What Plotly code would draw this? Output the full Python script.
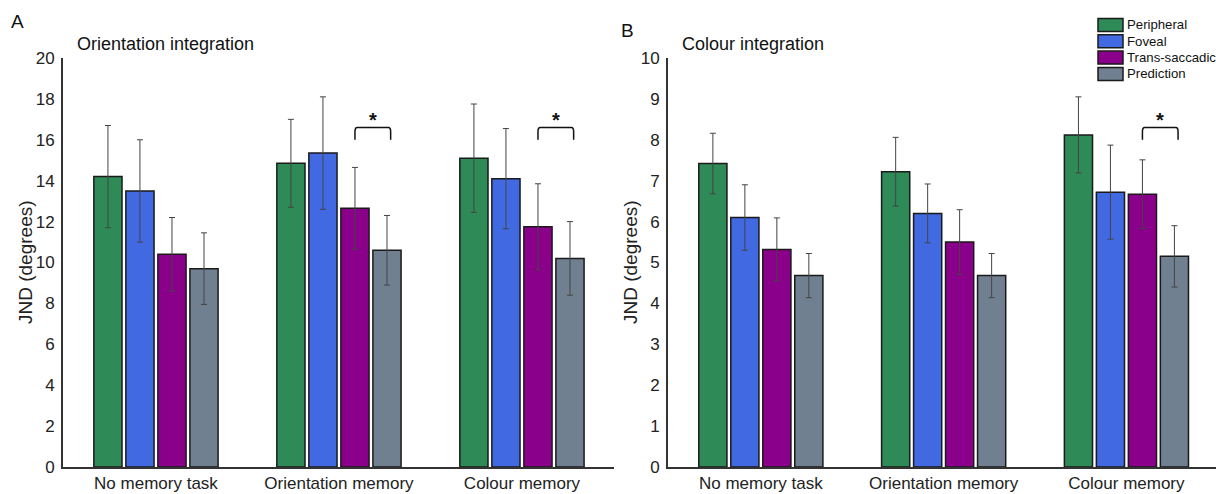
import plotly.graph_objects as go

categories = ["No memory task", "Orientation memory", "Colour memory"]
series = ["Peripheral", "Foveal", "Trans-saccadic", "Prediction"]
colors = ["#2E8B57", "#4169E1", "#8B008B", "#708090"]

# Panel A: orientation integration (JND in degrees)
orient_vals = {
    "Peripheral":     [14.2, 14.85, 15.1],
    "Foveal":         [13.5, 15.35, 14.1],
    "Trans-saccadic": [10.4, 12.65, 11.75],
    "Prediction":     [9.7, 10.6, 10.2],
}
orient_err = {
    "Peripheral":     [2.5, 2.15, 2.65],
    "Foveal":         [2.5, 2.75, 2.45],
    "Trans-saccadic": [1.8, 2.0, 2.1],
    "Prediction":     [1.75, 1.7, 1.8],
}
# Panel B: colour integration
colour_vals = {
    "Peripheral":     [7.42, 7.22, 8.12],
    "Foveal":         [6.1, 6.2, 6.72],
    "Trans-saccadic": [5.32, 5.5, 6.67],
    "Prediction":     [4.68, 4.68, 5.15],
}
colour_err = {
    "Peripheral":     [0.74, 0.84, 0.93],
    "Foveal":         [0.8, 0.72, 1.15],
    "Trans-saccadic": [0.77, 0.79, 0.84],
    "Prediction":     [0.54, 0.54, 0.75],
}
# significance brackets: (category index, y_low, y_high)
sig_A = [(1, 16.0, 16.6), (2, 16.0, 16.6)]
sig_B = [(2, 8.0, 8.3)]

x_idx = list(range(len(categories)))
BARGAP = 0.30
GROUPGAP = 0.12
FONT = "Liberation Sans, Arial, sans-serif"
W, H = 1216, 494

fig = go.Figure()
for panel, vals, errs in [("", orient_vals, orient_err), ("2", colour_vals, colour_err)]:
    for s, c in zip(series, colors):
        fig.add_trace(go.Bar(
            x=x_idx, y=vals[s], name=s,
            marker=dict(color=c, line=dict(color="#1a1a1a", width=1.5)),
            error_y=dict(type="data", array=errs[s], color="#444444", thickness=1, width=3),
            xaxis="x" + panel, yaxis="y" + panel, showlegend=False,
        ))

slot = (1 - BARGAP) / len(series)
def slot_center(k):
    return (k - (len(series) - 1) / 2) * slot

shapes = []
annotations = []
def bracket(xref, yref, ci, ylo, yhi):
    x0 = ci + slot_center(2)
    x1 = ci + slot_center(3) + 0.02
    r = 0.012
    ry = (yhi - ylo) * 0.35
    path = (f"M{x0},{ylo} L{x0},{yhi - ry} Q{x0},{yhi} {x0 + r},{yhi} "
            f"L{x1 - r},{yhi} Q{x1},{yhi} {x1},{yhi - ry} L{x1},{ylo}")
    shapes.append(dict(type="path", path=path, xref=xref, yref=yref,
                       line=dict(color="#111", width=1.5)))
    annotations.append(dict(x=(x0 + x1) / 2, y=yhi, xref=xref, yref=yref, text="<b>*</b>",
                            showarrow=False, yanchor="bottom", yshift=-5,
                            font=dict(size=20, color="#111", family=FONT)))

for ci, lo, hi in sig_A:
    bracket("x", "y", ci, lo, hi)
for ci, lo, hi in sig_B:
    bracket("x2", "y2", ci, lo, hi)

# legend drawn manually
for i, (s, c) in enumerate(zip(series, colors)):
    yc = 25 + i * 16.3
    shapes.append(dict(type="rect", xref="paper", yref="paper",
                       x0=1098 / W, x1=1123 / W, y0=1 - (yc + 6.5) / H, y1=1 - (yc - 6.5) / H,
                       fillcolor=c, line=dict(color="#1a1a1a", width=1.5)))
    annotations.append(dict(x=1125 / W, y=1 - yc / H, xref="paper", yref="paper", text=s,
                            showarrow=False, xanchor="left", yanchor="middle",
                            font=dict(size=13.2, color="#111", family=FONT)))

# panel letters, titles, y-axis titles
annotations += [
    dict(x=9 / W, y=1 - 21 / H, xref="paper", yref="paper", text="A", showarrow=False,
         xanchor="left", yanchor="middle", font=dict(size=19, color="#111", family=FONT)),
    dict(x=619 / W, y=1 - 31 / H, xref="paper", yref="paper", text="B", showarrow=False,
         xanchor="left", yanchor="middle", font=dict(size=19, color="#111", family=FONT)),
    dict(x=75 / W, y=1 - 44 / H, xref="paper", yref="paper", text="Orientation integration",
         showarrow=False, xanchor="left", yanchor="middle", font=dict(size=18, color="#111", family=FONT)),
    dict(x=680 / W, y=1 - 44 / H, xref="paper", yref="paper", text="Colour integration",
         showarrow=False, xanchor="left", yanchor="middle", font=dict(size=18, color="#111", family=FONT)),
    dict(x=25 / W, y=1 - 262 / H, xref="paper", yref="paper", text="JND (degrees)", textangle=-90,
         showarrow=False, xanchor="center", yanchor="middle", font=dict(size=19, color="#222", family=FONT)),
    dict(x=630 / W, y=1 - 262 / H, xref="paper", yref="paper", text="JND (degrees)", textangle=-90,
         showarrow=False, xanchor="center", yanchor="middle", font=dict(size=19, color="#222", family=FONT)),
]

ydom = [27 / H, 436 / H]
axis_common = dict(showgrid=False, zeroline=False, showline=True, linecolor="#333", linewidth=2,
                   ticks="", automargin=False, tickfont=dict(size=17, color="#222", family=FONT))
fig.update_layout(
    width=W, height=H, margin=dict(l=0, r=0, t=0, b=0, autoexpand=False),
    plot_bgcolor="white", paper_bgcolor="white",
    barmode="group", bargap=BARGAP, bargroupgap=GROUPGAP,
    showlegend=False,
    font=dict(family=FONT, color="#111"),
    xaxis=dict(domain=[63 / W, 614 / W], range=[-0.508, 2.503], tickvals=x_idx, ticktext=categories,
               anchor="y", **axis_common),
    yaxis=dict(domain=ydom, range=[0, 20], tickvals=list(range(0, 21, 2)), anchor="x",
               ticklabelstandoff=3, **axis_common),
    xaxis2=dict(domain=[668 / W, 1.0], range=[-0.508, 2.49], tickvals=x_idx, ticktext=categories,
                anchor="y2", **axis_common),
    yaxis2=dict(domain=ydom, range=[0, 10], tickvals=list(range(0, 11)), anchor="x2",
                ticklabelstandoff=3, **axis_common),
    shapes=shapes, annotations=annotations,
)
fig.write_html("out.html")
